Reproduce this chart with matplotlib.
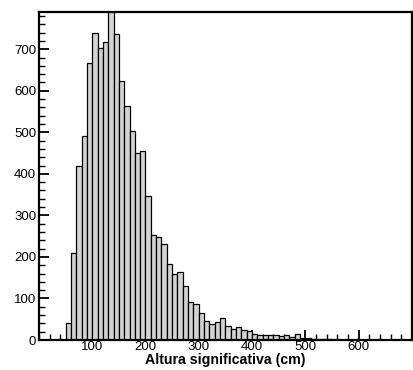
import matplotlib
matplotlib.use("Agg")
import matplotlib.pyplot as plt
from matplotlib.ticker import MultipleLocator

plt.rcParams['font.family'] = ['Liberation Sans', 'DejaVu Sans']

# histogram bins (cm), width 10
bin_left = list(range(50, 560, 10))
counts = [40, 210, 418, 490, 668, 740, 702, 718, 810, 737,
          624, 563, 503, 451, 455, 346, 254, 247, 230, 184,
          160, 163, 130, 92, 86, 66, 46, 38, 44, 54,
          34, 27, 32, 24, 22, 14, 13, 13, 11, 12,
          9, 11, 7, 14, 6, 4, 3, 3, 2, 2, 1]

x_labels = [100, 200, 300, 400, 500, 600]

fig = plt.figure(figsize=(4.14, 3.70), dpi=100)
ax = fig.add_axes([0.094, 0.081, 0.901, 0.887])

ax.bar(bin_left, counts, width=10, align='edge', color='#d3d3d3',
       edgecolor='black', linewidth=0.9, zorder=2)

ax.set_xlim(0, 700)
ax.set_ylim(0, 790)
ax.set_xticks(x_labels)
ax.xaxis.set_minor_locator(MultipleLocator(20))
ax.yaxis.set_major_locator(MultipleLocator(100))
ax.yaxis.set_minor_locator(MultipleLocator(20))

ax.tick_params(which='major', direction='in', length=7, width=1.3, labelsize=9.5, pad=2)
ax.tick_params(axis='x', which='major', pad=1)
ax.tick_params(which='minor', direction='in', length=4, width=1.0)
ax.tick_params(top=False, right=False)
for side in ax.spines.values():
    side.set_linewidth(1.6)
    side.set_zorder(5)

ax.set_xlabel("Altura significativa (cm)", fontsize=10.2, fontweight='bold', labelpad=-0.5)

fig.savefig("out.png", dpi=100)
